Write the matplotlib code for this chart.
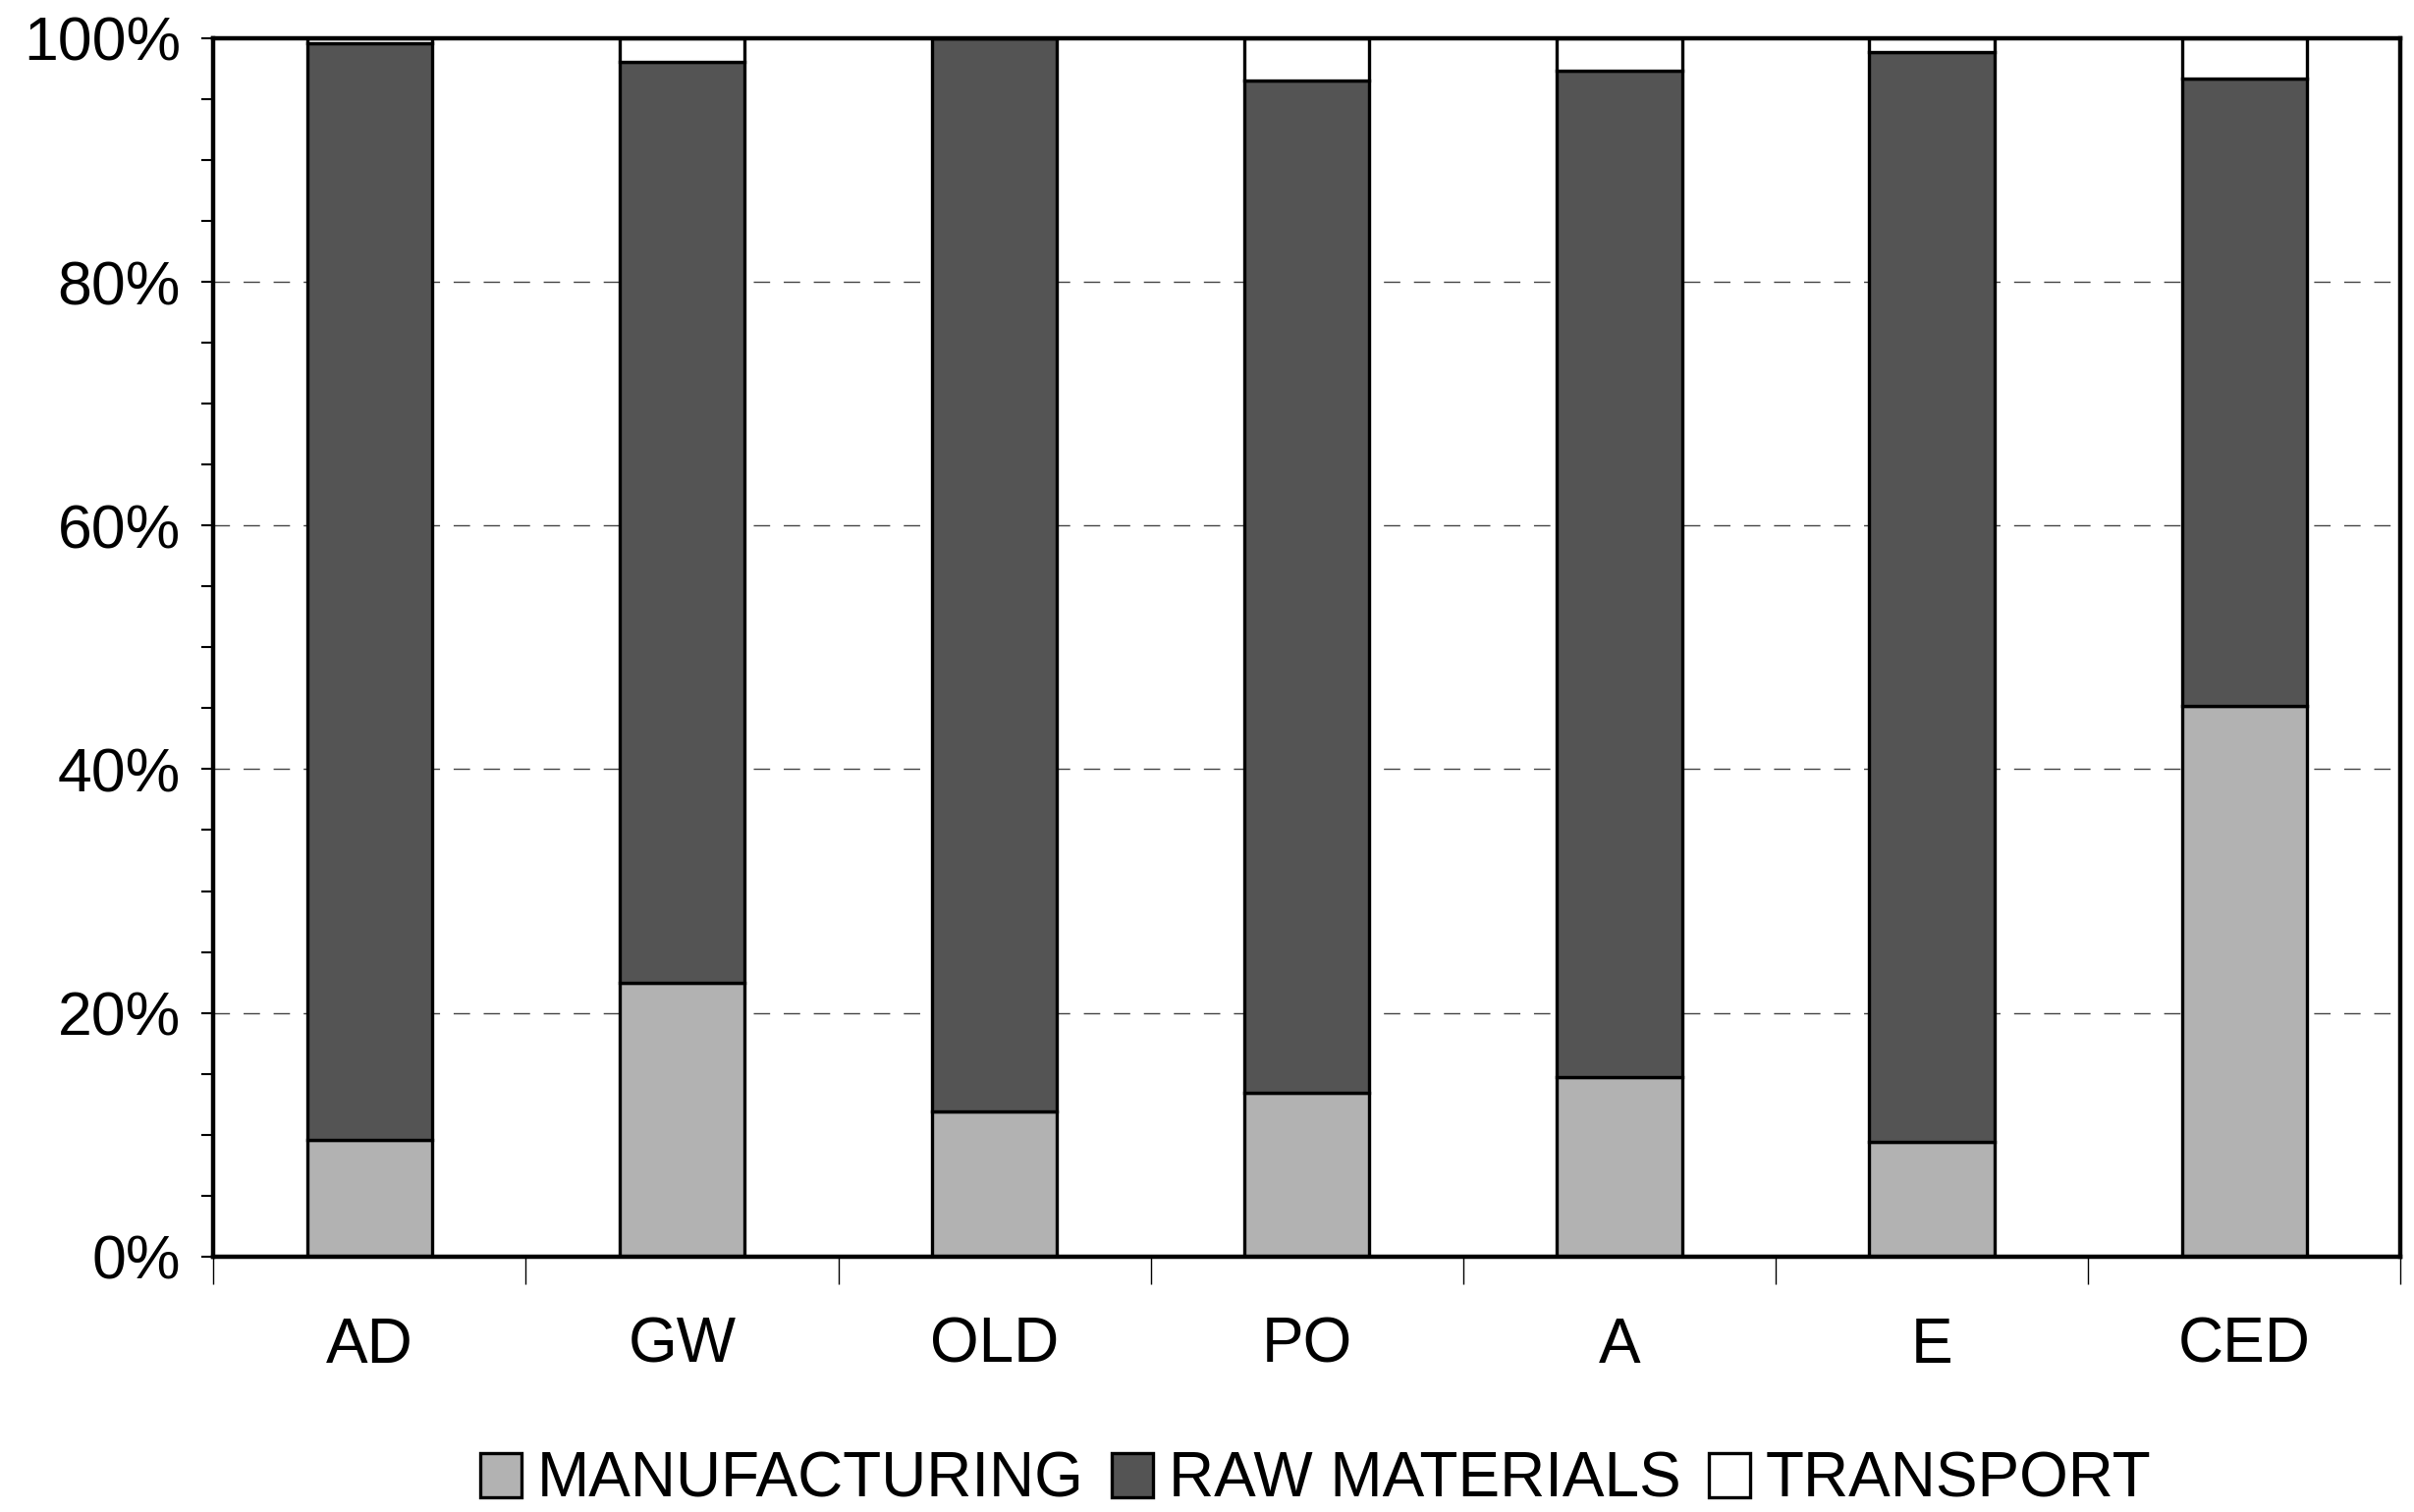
import numpy as np
import matplotlib.pyplot as plt
from matplotlib.ticker import MultipleLocator, FixedLocator

categories = ['AD', 'GW', 'OLD', 'PO', 'A', 'E', 'CED']
manufacturing = [9.6, 22.5, 11.9, 13.4, 14.7, 9.4, 45.2]
raw_materials = [90.0, 75.6, 88.1, 83.1, 82.6, 89.5, 51.5]
transport = [0.4, 1.9, 0.0, 3.5, 2.7, 1.1, 3.3]

plt.rcParams['font.family'] = ['Liberation Sans', 'DejaVu Sans']

fig = plt.figure(figsize=(24.58, 15.40), dpi=100)
ax = fig.add_axes([0.0884, 0.169, 0.9060, 0.8057])

x = np.arange(len(categories))
w = 0.4
edge = dict(edgecolor='black', linewidth=2.4, zorder=3)
manu = np.array(manufacturing)
raw = np.array(raw_materials)
ax.bar(x, manu, w, color='#b2b2b2', label='MANUFACTURING', **edge)
ax.bar(x, raw, w, bottom=manu, color='#545454', label='RAW MATERIALS', **edge)
ax.bar(x, transport, w, bottom=manu + raw, color='white', label='TRANSPORT', **edge)

ax.set_xlim(-0.5, len(categories) - 0.5)
ax.set_ylim(0, 100)

ax.yaxis.set_minor_locator(MultipleLocator(5))
ax.set_yticks(np.arange(0, 101, 20))
ax.set_yticklabels([f'{v}%' for v in range(0, 101, 20)])
ax.tick_params(axis='y', which='both', direction='out', length=9, width=1.5,
               labelsize=45, pad=15)

ax.set_xticks(x)
ax.set_xticklabels(categories)
ax.xaxis.set_minor_locator(FixedLocator(np.arange(-0.5, len(categories), 1.0)))
ax.tick_params(axis='x', which='major', length=0, labelsize=46, pad=44)
ax.tick_params(axis='x', which='minor', direction='out', length=20, width=1.0)

for v in range(20, 100, 20):
    ax.axhline(v, color='#444444', linewidth=1.0, linestyle=(0, (12, 10)), zorder=1)

for s in ax.spines.values():
    s.set_linewidth(3.2)
    s.set_zorder(4)

fig.legend(loc='center', bbox_to_anchor=(0.545, 0.021), ncol=3, frameon=False,
           fontsize=46, handlelength=0.65, handleheight=0.7, handletextpad=0.25,
           columnspacing=0.45, borderaxespad=0)

fig.savefig('out.png', dpi=100)
